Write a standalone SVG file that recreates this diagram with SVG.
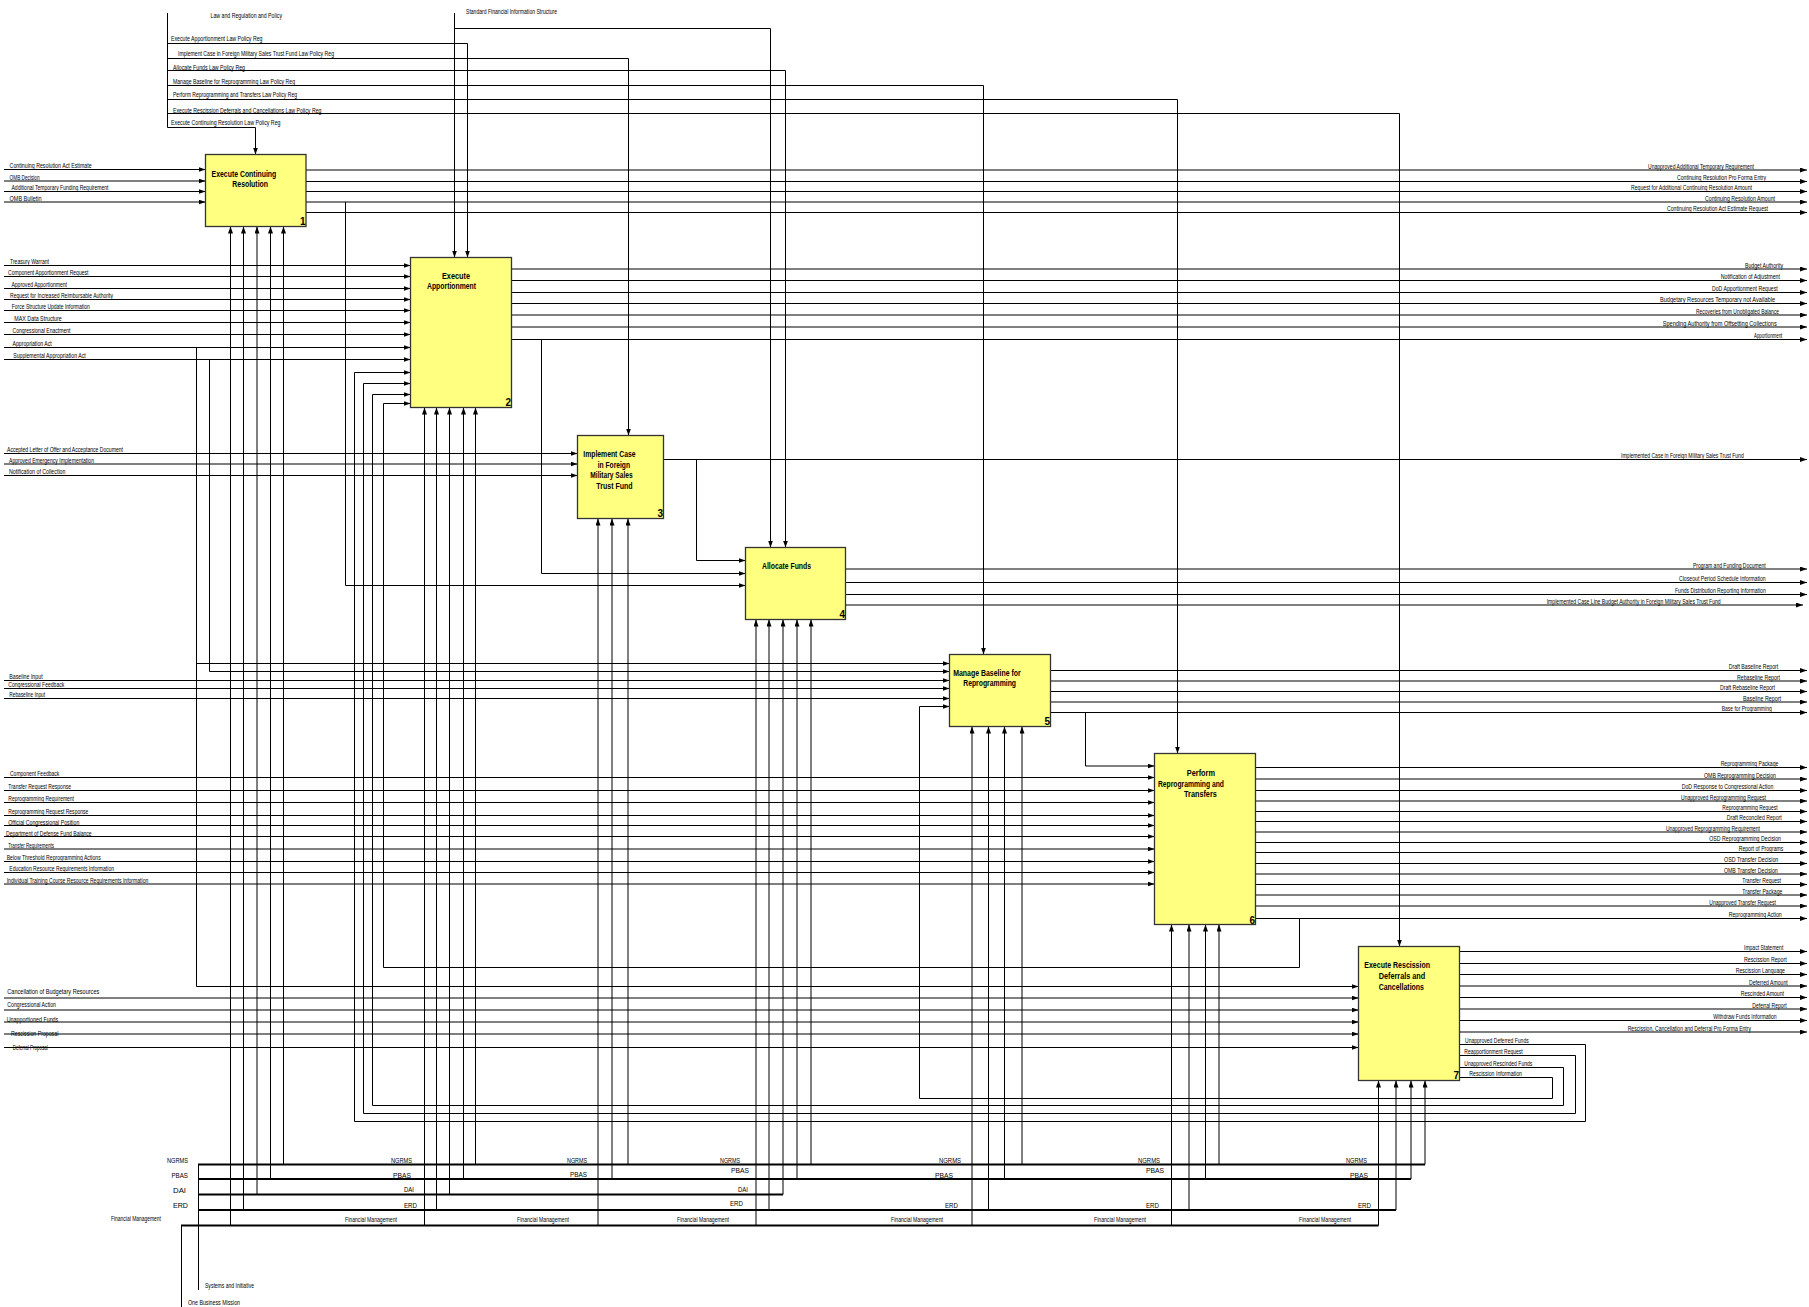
<svg xmlns="http://www.w3.org/2000/svg" width="1809" height="1307" viewBox="0 0 1809 1307">
<style>
.bg{fill:#fff}
.ln{fill:none;stroke:#000;stroke-width:1}
.bus{fill:none;stroke:#000;stroke-width:2}
.box{fill:#ffff80;stroke:#333;stroke-width:1.3}
.t{font-family:"Liberation Sans",Arial,sans-serif;font-size:7px;fill:#000}
.bt{font-family:"Liberation Sans",Arial,sans-serif;font-size:9.5px;font-weight:bold;fill:#000}
.num{font-family:"Liberation Sans",Arial,sans-serif;font-size:10px;font-weight:bold;fill:#000;text-anchor:end}
</style>
<defs>
<marker id="a" markerWidth="7" markerHeight="5" refX="7" refY="2.5" orient="auto" markerUnits="userSpaceOnUse"><path d="M0,0 L7,2.5 L0,5 z" fill="#000"/></marker>
</defs>
<rect class="bg" x="0" y="0" width="1809" height="1307"/>

<g id="connectors">
<g class="ln" marker-end="url(#a)">
<path d="M167.5,13 V127.5 H255.5 V154.5"/>
<path d="M167.5,43.5 H467.5 V257.5"/>
<path d="M167.5,58.5 H628.5 V435.5"/>
<path d="M167.5,70.5 H785.5 V547.5"/>
<path d="M167.5,85.5 H983.5 V654.5"/>
<path d="M167.5,99.5 H1177.5 V753.5"/>
<path d="M167.5,113.5 H1399.5 V946.5"/>
<path d="M454.5,13 V257.5"/>
<path d="M454.5,28.5 H770.5 V547.5"/>
</g>
<g class="ln" marker-end="url(#a)">
<path d="M4,169.5 H205.5"/><path d="M4,181 H205.5"/><path d="M4,191.5 H205.5"/><path d="M4,202 H205.5"/>
<path d="M306,170 H1807"/><path d="M306,181.5 H1807"/><path d="M306,191.5 H1807"/><path d="M306,202 H1807"/><path d="M306,212.5 H1807"/>
<path d="M345.5,202 V585.5 H745.5"/>
<path d="M4,265.5 H410.5"/><path d="M4,276.5 H410.5"/><path d="M4,288.5 H410.5"/><path d="M4,299.5 H410.5"/><path d="M4,310.5 H410.5"/><path d="M4,322.5 H410.5"/><path d="M4,334.5 H410.5"/><path d="M4,347.5 H410.5"/><path d="M4,359.5 H410.5"/>
<path d="M511.5,269 H1807"/><path d="M511.5,280.5 H1807"/><path d="M511.5,292.5 H1807"/><path d="M511.5,303.5 H1807"/><path d="M511.5,315 H1807"/><path d="M511.5,327 H1807"/><path d="M511.5,339.5 H1807"/>
<path d="M541.5,339.5 V573.5 H745.5"/>
<path d="M196.5,347.5 V986.5 H1358.5"/>
<path d="M196.5,663.5 H949.5"/>
<path d="M209.5,359.5 V671.5 H949.5"/>
<path d="M4,453.5 H577.5"/><path d="M4,464 H577.5"/><path d="M4,475.5 H577.5"/>
<path d="M663.5,459.5 H1807"/>
<path d="M696.5,459.5 V560.5 H745.5"/>
<path d="M845.5,569 H1807"/><path d="M845.5,582.5 H1807"/><path d="M845.5,594.5 H1807"/><path d="M845.5,605 H1803"/>
<path d="M4,680.5 H949.5"/><path d="M4,688.5 H949.5"/><path d="M4,698.5 H949.5"/>
<path d="M1050.5,670.5 H1807"/><path d="M1050.5,681 H1807"/><path d="M1050.5,691.5 H1807"/><path d="M1050.5,702 H1807"/><path d="M1050.5,712.5 H1807"/>
<path d="M1085.5,712.5 V766 H1154.5"/>
<path d="M4,777.5 H1154.5"/><path d="M4,790.5 H1154.5"/><path d="M4,802.5 H1154.5"/><path d="M4,815.5 H1154.5"/><path d="M4,825.5 H1154.5"/><path d="M4,836.5 H1154.5"/><path d="M4,849 H1154.5"/><path d="M4,861.5 H1154.5"/><path d="M4,872.5 H1154.5"/><path d="M4,884 H1154.5"/>
<path d="M1255.5,767.5 H1807"/><path d="M1255.5,779 H1807"/><path d="M1255.5,790.5 H1807"/><path d="M1255.5,801 H1807"/><path d="M1255.5,811.5 H1807"/><path d="M1255.5,821.5 H1807"/><path d="M1255.5,832 H1807"/><path d="M1255.5,842.5 H1807"/><path d="M1255.5,852.5 H1807"/><path d="M1255.5,863.5 H1807"/><path d="M1255.5,874 H1807"/><path d="M1255.5,884.5 H1807"/><path d="M1255.5,895 H1807"/><path d="M1255.5,906 H1807"/><path d="M1255.5,918.5 H1807"/>
<path d="M1299.5,918.5 V967.5 H383.5 V403.5 H410.5"/>
<path d="M4,998 H1358.5"/><path d="M4,1010 H1358.5"/><path d="M4,1022 H1358.5"/><path d="M4,1034 H1358.5"/><path d="M4,1047.5 H1358.5"/>
<path d="M1459.5,951.5 H1807"/><path d="M1459.5,963.5 H1807"/><path d="M1459.5,974.5 H1807"/><path d="M1459.5,986 H1807"/><path d="M1459.5,997.5 H1807"/><path d="M1459.5,1009 H1807"/><path d="M1459.5,1020.5 H1807"/><path d="M1459.5,1032 H1807"/>
<path d="M1459.5,1044.5 H1585.5 V1121.5 H354.5 V372.5 H410.5"/>
<path d="M1459.5,1055.5 H1575.5 V1113.5 H363.5 V383.5 H410.5"/>
<path d="M1459.5,1067.5 H1563.5 V1105.5 H372.5 V394.5 H410.5"/>
<path d="M1459.5,1077.5 H1552.5 V1098.5 H919.5 V706.5 H949.5"/>
<path d="M230.5,1225.5 V226.5"/><path d="M243.5,1210 V226.5"/><path d="M257,1194.5 V226.5"/><path d="M270.5,1179 V226.5"/><path d="M283.5,1164.5 V226.5"/>
<path d="M424.5,1225.5 V407.5"/><path d="M436.5,1210 V407.5"/><path d="M449.5,1194.5 V407.5"/><path d="M463.5,1179 V407.5"/><path d="M475.5,1164.5 V407.5"/>
<path d="M598,1225.5 V518.5"/><path d="M612,1179 V518.5"/><path d="M628,1164.5 V518.5"/>
<path d="M756,1225.5 V619.5"/><path d="M769,1210 V619.5"/><path d="M783,1194.5 V619.5"/><path d="M797,1179 V619.5"/><path d="M811,1164.5 V619.5"/>
<path d="M972,1225.5 V726.5"/><path d="M988.5,1210 V726.5"/><path d="M1004.5,1179 V726.5"/><path d="M1022,1164.5 V726.5"/>
<path d="M1171.5,1225.5 V924.5"/><path d="M1189,1210 V924.5"/><path d="M1205.5,1179 V924.5"/><path d="M1219,1164.5 V924.5"/>
<path d="M1378.5,1225.5 V1080.5"/><path d="M1396,1210 V1080.5"/><path d="M1411,1179 V1080.5"/><path d="M1425,1164.5 V1080.5"/>
</g>
<g>
<path class="bus" d="M198,1164.5 H1425"/>
<path class="bus" d="M198,1179 H1411"/>
<path class="bus" d="M198,1194.5 H783"/>
<path class="bus" d="M198,1210 H1396"/>
<path class="bus" d="M181,1225.5 H1378.5"/>
<path class="ln" d="M198.5,1164.5 V1290"/>
<path class="ln" d="M181.5,1225.5 V1307"/>
</g>
</g>

<g id="labels">
<text class="t" x="210.5" y="18" textLength="71.5" lengthAdjust="spacingAndGlyphs">Law and Regulation and Policy</text>
<text class="t" x="466" y="14" textLength="91" lengthAdjust="spacingAndGlyphs">Standard Financial Information Structure</text>
<text class="t" x="171" y="41" textLength="91.5" lengthAdjust="spacingAndGlyphs">Execute Apportionment Law Policy Reg</text>
<text class="t" x="178" y="56" textLength="156" lengthAdjust="spacingAndGlyphs">Implement Case in Foreign Military Sales Trust Fund Law Policy Reg</text>
<text class="t" x="173" y="69.5" textLength="72" lengthAdjust="spacingAndGlyphs">Allocate Funds Law Policy Reg</text>
<text class="t" x="173" y="84" textLength="122" lengthAdjust="spacingAndGlyphs">Manage Baseline for Reprogramming Law Policy Reg</text>
<text class="t" x="173" y="97" textLength="124" lengthAdjust="spacingAndGlyphs">Perform Reprogramming and Transfers Law Policy Reg</text>
<text class="t" x="173" y="112.5" textLength="148.5" lengthAdjust="spacingAndGlyphs">Execute Rescission Deferrals and Cancellations Law Policy Reg</text>
<text class="t" x="171" y="125" textLength="109.5" lengthAdjust="spacingAndGlyphs">Execute Continuing Resolution Law Policy Reg</text>

<text class="t" x="9.6" y="168.2" textLength="82" lengthAdjust="spacingAndGlyphs">Continuing Resolution Act Estimate</text>
<text class="t" x="9.6" y="179.7" textLength="30" lengthAdjust="spacingAndGlyphs">OMB Decision</text>
<text class="t" x="11.5" y="190.2" textLength="97" lengthAdjust="spacingAndGlyphs">Additional Temporary Funding Requirement</text>
<text class="t" x="9.6" y="200.7" textLength="32" lengthAdjust="spacingAndGlyphs">OMB Bulletin</text>

<text class="t" x="1648" y="168.7" textLength="106" lengthAdjust="spacingAndGlyphs">Unapproved Additional Temporary Requirement</text>
<text class="t" x="1677" y="180.2" textLength="89" lengthAdjust="spacingAndGlyphs">Continuing Resolution Pro Forma Entry</text>
<text class="t" x="1631" y="190.2" textLength="121" lengthAdjust="spacingAndGlyphs">Request for Additional Continuing Resolution Amount</text>
<text class="t" x="1705" y="200.7" textLength="70" lengthAdjust="spacingAndGlyphs">Continuing Resolution Amount</text>
<text class="t" x="1667" y="211.2" textLength="101" lengthAdjust="spacingAndGlyphs">Continuing Resolution Act Estimate Request</text>

<text class="t" x="10" y="264.2" textLength="39" lengthAdjust="spacingAndGlyphs">Treasury Warrant</text>
<text class="t" x="8" y="275.2" textLength="80.5" lengthAdjust="spacingAndGlyphs">Component Apportionment Request</text>
<text class="t" x="11.4" y="287.2" textLength="55.6" lengthAdjust="spacingAndGlyphs">Approved Apportionment</text>
<text class="t" x="10" y="298.2" textLength="103" lengthAdjust="spacingAndGlyphs">Request for Increased Reimbursable Authority</text>
<text class="t" x="11.8" y="309.2" textLength="78" lengthAdjust="spacingAndGlyphs">Force Structure Update Information</text>
<text class="t" x="14.3" y="321.2" textLength="47.5" lengthAdjust="spacingAndGlyphs">MAX Data Structure</text>
<text class="t" x="12.5" y="333.2" textLength="58" lengthAdjust="spacingAndGlyphs">Congressional Enactment</text>
<text class="t" x="12.5" y="346.2" textLength="39.3" lengthAdjust="spacingAndGlyphs">Appropriation Act</text>
<text class="t" x="13.2" y="358.4" textLength="72.5" lengthAdjust="spacingAndGlyphs">Supplemental Appropriation Act</text>

<text class="t" x="1745" y="267.7" textLength="38" lengthAdjust="spacingAndGlyphs">Budget Authority</text>
<text class="t" x="1720.7" y="279.2" textLength="59.3" lengthAdjust="spacingAndGlyphs">Notification of Adjustment</text>
<text class="t" x="1712" y="291.2" textLength="65.7" lengthAdjust="spacingAndGlyphs">DoD Apportionment Request</text>
<text class="t" x="1660" y="302.2" textLength="115" lengthAdjust="spacingAndGlyphs">Budgetary Resources Temporary not Available</text>
<text class="t" x="1696" y="313.7" textLength="83" lengthAdjust="spacingAndGlyphs">Recoveries from Unobligated Balance</text>
<text class="t" x="1662.7" y="325.7" textLength="114" lengthAdjust="spacingAndGlyphs">Spending Authority from Offsetting Collections</text>
<text class="t" x="1754" y="338.2" textLength="28.3" lengthAdjust="spacingAndGlyphs">Apportionment</text>

<text class="t" x="7" y="452" textLength="116" lengthAdjust="spacingAndGlyphs">Accepted Letter of Offer and Acceptance Document</text>
<text class="t" x="9" y="462.7" textLength="85" lengthAdjust="spacingAndGlyphs">Approved Emergency Implementation</text>
<text class="t" x="9" y="474.2" textLength="56.4" lengthAdjust="spacingAndGlyphs">Notification of Collection</text>
<text class="t" x="1621" y="458.2" textLength="122.7" lengthAdjust="spacingAndGlyphs">Implemented Case in Foreign Military Sales Trust Fund</text>

<text class="t" x="1693" y="567.7" textLength="72.7" lengthAdjust="spacingAndGlyphs">Program and Funding Document</text>
<text class="t" x="1679" y="581.2" textLength="86.7" lengthAdjust="spacingAndGlyphs">Closeout Period Schedule Information</text>
<text class="t" x="1675" y="593.2" textLength="90.7" lengthAdjust="spacingAndGlyphs">Funds Distribution Reporting Information</text>
<text class="t" x="1546.7" y="603.7" textLength="174" lengthAdjust="spacingAndGlyphs">Implemented Case Line Budget Authority in Foreign Military Sales Trust Fund</text>

<text class="t" x="9.3" y="679.2" textLength="33.3" lengthAdjust="spacingAndGlyphs">Baseline Input</text>
<text class="t" x="8.3" y="687.2" textLength="56" lengthAdjust="spacingAndGlyphs">Congressional Feedback</text>
<text class="t" x="9.3" y="697.2" textLength="35.7" lengthAdjust="spacingAndGlyphs">Rebaseline Input</text>

<text class="t" x="1728.7" y="669.2" textLength="49.6" lengthAdjust="spacingAndGlyphs">Draft Baseline Report</text>
<text class="t" x="1737" y="679.7" textLength="43" lengthAdjust="spacingAndGlyphs">Rebaseline Report</text>
<text class="t" x="1720" y="690.2" textLength="55" lengthAdjust="spacingAndGlyphs">Draft Rebaseline Report</text>
<text class="t" x="1743" y="700.7" textLength="38" lengthAdjust="spacingAndGlyphs">Baseline Report</text>
<text class="t" x="1721.7" y="711.2" textLength="50" lengthAdjust="spacingAndGlyphs">Base for Programming</text>

<text class="t" x="10" y="776.2" textLength="49.3" lengthAdjust="spacingAndGlyphs">Component Feedback</text>
<text class="t" x="8.3" y="789.2" textLength="62.7" lengthAdjust="spacingAndGlyphs">Transfer Request Response</text>
<text class="t" x="8.3" y="801.2" textLength="65.7" lengthAdjust="spacingAndGlyphs">Reprogramming Requirement</text>
<text class="t" x="8.3" y="814.2" textLength="80" lengthAdjust="spacingAndGlyphs">Reprogramming Request Response</text>
<text class="t" x="8.3" y="824.5" textLength="71" lengthAdjust="spacingAndGlyphs">Official Congressional Position</text>
<text class="t" x="6" y="835.7" textLength="85.7" lengthAdjust="spacingAndGlyphs">Department of Defense Fund Balance</text>
<text class="t" x="8.3" y="847.7" textLength="45.7" lengthAdjust="spacingAndGlyphs">Transfer Requirements</text>
<text class="t" x="6.7" y="860.2" textLength="94" lengthAdjust="spacingAndGlyphs">Below Threshold Reprogramming Actions</text>
<text class="t" x="9.3" y="871.2" textLength="104.7" lengthAdjust="spacingAndGlyphs">Education Resource Requirements Information</text>
<text class="t" x="6.7" y="882.7" textLength="141.6" lengthAdjust="spacingAndGlyphs">Individual Training Course Resource Requirements Information</text>

<text class="t" x="1720.7" y="766.2" textLength="57.6" lengthAdjust="spacingAndGlyphs">Reprogramming Package</text>
<text class="t" x="1704" y="777.7" textLength="72" lengthAdjust="spacingAndGlyphs">OMB Reprogramming Decision</text>
<text class="t" x="1681.7" y="789.2" textLength="91.6" lengthAdjust="spacingAndGlyphs">DoD Response to Congressional Action</text>
<text class="t" x="1681" y="799.7" textLength="85" lengthAdjust="spacingAndGlyphs">Unapproved Reprogramming Request</text>
<text class="t" x="1722.3" y="810.2" textLength="55.4" lengthAdjust="spacingAndGlyphs">Reprogramming Request</text>
<text class="t" x="1726.7" y="820.2" textLength="55" lengthAdjust="spacingAndGlyphs">Draft Reconciled Report</text>
<text class="t" x="1666" y="830.7" textLength="94" lengthAdjust="spacingAndGlyphs">Unapproved Reprogramming Requirement</text>
<text class="t" x="1709.3" y="841.2" textLength="71.7" lengthAdjust="spacingAndGlyphs">OSD Reprogramming Decision</text>
<text class="t" x="1738.7" y="851.2" textLength="44.6" lengthAdjust="spacingAndGlyphs">Report of Programs</text>
<text class="t" x="1724" y="862.2" textLength="54.3" lengthAdjust="spacingAndGlyphs">OSD Transfer Decision</text>
<text class="t" x="1724" y="872.7" textLength="53.7" lengthAdjust="spacingAndGlyphs">OMB Transfer Decision</text>
<text class="t" x="1742.3" y="883.2" textLength="38.7" lengthAdjust="spacingAndGlyphs">Transfer Request</text>
<text class="t" x="1742.3" y="893.7" textLength="40" lengthAdjust="spacingAndGlyphs">Transfer Package</text>
<text class="t" x="1709.3" y="904.7" textLength="66.7" lengthAdjust="spacingAndGlyphs">Unapproved Transfer Request</text>
<text class="t" x="1728.7" y="917.2" textLength="53" lengthAdjust="spacingAndGlyphs">Reprogramming Action</text>

<text class="t" x="7.3" y="994.2" textLength="92" lengthAdjust="spacingAndGlyphs">Cancellation of Budgetary Resources</text>
<text class="t" x="7.3" y="1006.7" textLength="48.7" lengthAdjust="spacingAndGlyphs">Congressional Action</text>
<text class="t" x="6.7" y="1021.5" textLength="51.6" lengthAdjust="spacingAndGlyphs">Unapportioned Funds</text>
<text class="t" x="11" y="1036" textLength="47.3" lengthAdjust="spacingAndGlyphs">Rescission Proposal</text>
<text class="t" x="12.7" y="1049.5" textLength="35" lengthAdjust="spacingAndGlyphs">Deferral Proposal</text>

<text class="t" x="1744" y="950.2" textLength="39.3" lengthAdjust="spacingAndGlyphs">Impact Statement</text>
<text class="t" x="1744" y="962.2" textLength="42.7" lengthAdjust="spacingAndGlyphs">Rescission Report</text>
<text class="t" x="1735.7" y="973.2" textLength="49.3" lengthAdjust="spacingAndGlyphs">Rescission Language</text>
<text class="t" x="1749" y="984.7" textLength="38.7" lengthAdjust="spacingAndGlyphs">Deferred Amount</text>
<text class="t" x="1740.7" y="996.2" textLength="43.3" lengthAdjust="spacingAndGlyphs">Rescinded Amount</text>
<text class="t" x="1752.3" y="1007.7" textLength="34.4" lengthAdjust="spacingAndGlyphs">Deferral Report</text>
<text class="t" x="1713.3" y="1019.2" textLength="63.4" lengthAdjust="spacingAndGlyphs">Withdraw Funds Information</text>
<text class="t" x="1627.7" y="1030.7" textLength="123.3" lengthAdjust="spacingAndGlyphs">Rescission, Cancellation and Deferral Pro Forma Entry</text>
<text class="t" x="1465" y="1042.7" textLength="63.7" lengthAdjust="spacingAndGlyphs">Unapproved Deferred Funds</text>
<text class="t" x="1464.3" y="1054.2" textLength="58.4" lengthAdjust="spacingAndGlyphs">Reapportionment Request</text>
<text class="t" x="1464.3" y="1065.7" textLength="68" lengthAdjust="spacingAndGlyphs">Unapproved Rescinded Funds</text>
<text class="t" x="1469.3" y="1076" textLength="52.7" lengthAdjust="spacingAndGlyphs">Rescission Information</text>

<text class="t" x="167" y="1163" textLength="21" lengthAdjust="spacingAndGlyphs">NGRMS</text>
<text class="t" x="171.5" y="1177.5" textLength="16.5" lengthAdjust="spacingAndGlyphs">PBAS</text>
<text class="t" x="173" y="1193" textLength="13" lengthAdjust="spacingAndGlyphs">DAI</text>
<text class="t" x="173" y="1207.5" textLength="15" lengthAdjust="spacingAndGlyphs">ERD</text>
<text class="t" x="111" y="1221" textLength="50" lengthAdjust="spacingAndGlyphs">Financial Management</text>

<text class="t" x="391" y="1162.5" textLength="21" lengthAdjust="spacingAndGlyphs">NGRMS</text>
<text class="t" x="567" y="1162.5" textLength="20" lengthAdjust="spacingAndGlyphs">NGRMS</text>
<text class="t" x="720" y="1162.5" textLength="20" lengthAdjust="spacingAndGlyphs">NGRMS</text>
<text class="t" x="939" y="1162.5" textLength="22" lengthAdjust="spacingAndGlyphs">NGRMS</text>
<text class="t" x="1138" y="1162.5" textLength="22" lengthAdjust="spacingAndGlyphs">NGRMS</text>
<text class="t" x="1346" y="1162.5" textLength="21" lengthAdjust="spacingAndGlyphs">NGRMS</text>

<text class="t" x="393" y="1177.5" textLength="18" lengthAdjust="spacingAndGlyphs">PBAS</text>
<text class="t" x="570" y="1177" textLength="17" lengthAdjust="spacingAndGlyphs">PBAS</text>
<text class="t" x="731" y="1173" textLength="18" lengthAdjust="spacingAndGlyphs">PBAS</text>
<text class="t" x="935" y="1177.5" textLength="18" lengthAdjust="spacingAndGlyphs">PBAS</text>
<text class="t" x="1146" y="1173" textLength="18" lengthAdjust="spacingAndGlyphs">PBAS</text>
<text class="t" x="1350" y="1177.5" textLength="18" lengthAdjust="spacingAndGlyphs">PBAS</text>

<text class="t" x="404" y="1191.5" textLength="10" lengthAdjust="spacingAndGlyphs">DAI</text>
<text class="t" x="738" y="1191.5" textLength="10" lengthAdjust="spacingAndGlyphs">DAI</text>

<text class="t" x="404" y="1207.5" textLength="13" lengthAdjust="spacingAndGlyphs">ERD</text>
<text class="t" x="730" y="1206" textLength="13" lengthAdjust="spacingAndGlyphs">ERD</text>
<text class="t" x="945" y="1208" textLength="13" lengthAdjust="spacingAndGlyphs">ERD</text>
<text class="t" x="1146" y="1207.5" textLength="13" lengthAdjust="spacingAndGlyphs">ERD</text>
<text class="t" x="1358" y="1208" textLength="13" lengthAdjust="spacingAndGlyphs">ERD</text>

<text class="t" x="345" y="1221.5" textLength="52" lengthAdjust="spacingAndGlyphs">Financial Management</text>
<text class="t" x="517" y="1221.5" textLength="52" lengthAdjust="spacingAndGlyphs">Financial Management</text>
<text class="t" x="677" y="1221.5" textLength="52" lengthAdjust="spacingAndGlyphs">Financial Management</text>
<text class="t" x="891" y="1221.5" textLength="52" lengthAdjust="spacingAndGlyphs">Financial Management</text>
<text class="t" x="1094" y="1221.5" textLength="52" lengthAdjust="spacingAndGlyphs">Financial Management</text>
<text class="t" x="1299" y="1221.5" textLength="52" lengthAdjust="spacingAndGlyphs">Financial Management</text>

<text class="t" x="205" y="1288" textLength="49" lengthAdjust="spacingAndGlyphs">Systems and Initiative</text>
<text class="t" x="188" y="1305" textLength="52" lengthAdjust="spacingAndGlyphs">One Business Mission</text>
</g>

<g id="node1">
<rect class="box" x="205.5" y="154.5" width="100.5" height="72"/>
<text class="bt" x="211.6" y="176.5" textLength="64.7" lengthAdjust="spacingAndGlyphs">Execute Continuing</text>
<text class="bt" x="232.3" y="187" textLength="35.7" lengthAdjust="spacingAndGlyphs">Resolution</text>
<text class="num" x="305.5" y="225">1</text>
</g>
<g id="node2">
<rect class="box" x="410.5" y="257.5" width="101" height="150"/>
<text class="bt" x="442" y="278.5" textLength="28" lengthAdjust="spacingAndGlyphs">Execute</text>
<text class="bt" x="427" y="289" textLength="49" lengthAdjust="spacingAndGlyphs">Apportionment</text>
<text class="num" x="511" y="406">2</text>
</g>
<g id="node3">
<rect class="box" x="577.5" y="435.5" width="86" height="83"/>
<text class="bt" x="583.3" y="456.5" textLength="52.3" lengthAdjust="spacingAndGlyphs">Implement Case</text>
<text class="bt" x="597.7" y="467.5" textLength="32.3" lengthAdjust="spacingAndGlyphs">in Foreign</text>
<text class="bt" x="590.3" y="478" textLength="42.3" lengthAdjust="spacingAndGlyphs">Military Sales</text>
<text class="bt" x="596.3" y="489" textLength="36.3" lengthAdjust="spacingAndGlyphs">Trust Fund</text>
<text class="num" x="663" y="517">3</text>
</g>
<g id="node4">
<rect class="box" x="745.5" y="547.5" width="100" height="72"/>
<text class="bt" x="762" y="568.5" textLength="49" lengthAdjust="spacingAndGlyphs">Allocate Funds</text>
<text class="num" x="845" y="618">4</text>
</g>
<g id="node5">
<rect class="box" x="949.5" y="654.5" width="101" height="72"/>
<text class="bt" x="953.2" y="675.5" textLength="67.5" lengthAdjust="spacingAndGlyphs">Manage Baseline for</text>
<text class="bt" x="963.2" y="686" textLength="52.8" lengthAdjust="spacingAndGlyphs">Reprogramming</text>
<text class="num" x="1050" y="725">5</text>
</g>
<g id="node6">
<rect class="box" x="1154.5" y="753.5" width="101" height="171"/>
<text class="bt" x="1186.8" y="775.5" textLength="28.2" lengthAdjust="spacingAndGlyphs">Perform</text>
<text class="bt" x="1157.9" y="786.5" textLength="66.1" lengthAdjust="spacingAndGlyphs">Reprogramming and</text>
<text class="bt" x="1184" y="796.5" textLength="32.8" lengthAdjust="spacingAndGlyphs">Transfers</text>
<text class="num" x="1255" y="923.5">6</text>
</g>
<g id="node7">
<rect class="box" x="1358.5" y="946.5" width="101" height="134"/>
<text class="bt" x="1364.3" y="967.5" textLength="65.7" lengthAdjust="spacingAndGlyphs">Execute Rescission</text>
<text class="bt" x="1378.7" y="978.5" textLength="46.6" lengthAdjust="spacingAndGlyphs">Deferrals and</text>
<text class="bt" x="1378.7" y="989.5" textLength="45.3" lengthAdjust="spacingAndGlyphs">Cancellations</text>
<text class="num" x="1459" y="1079">7</text>
</g>
</svg>
